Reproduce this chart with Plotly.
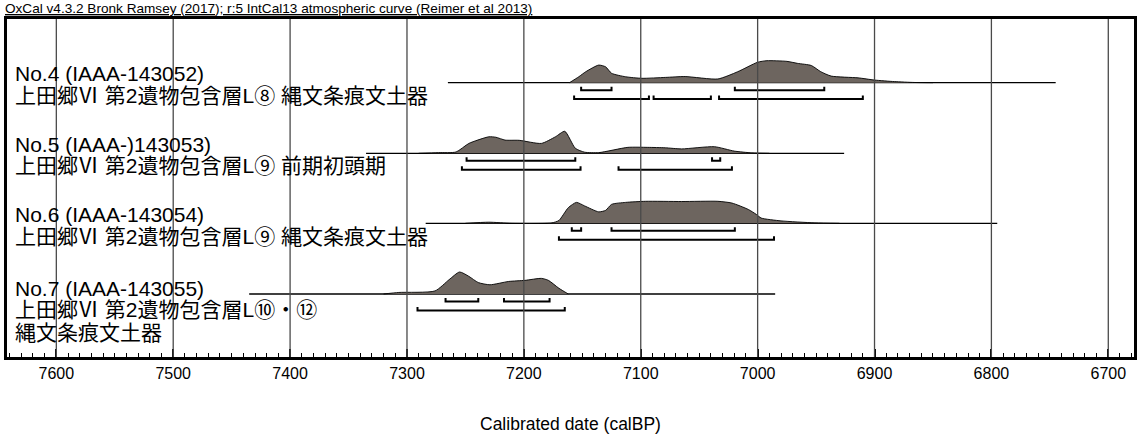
import plotly.graph_objects as go

# ---------------- data ----------------
tick_values = [7600, 7500, 7400, 7300, 7200, 7100, 7000, 6900, 6800, 6700]
tick_labels = ["7600", "7500", "7400", "7300", "7200", "7100", "7000", "6900", "6800", "6700"]

title_text = "OxCal v4.3.2 Bronk Ramsey (2017); r:5 IntCal13 atmospheric curve (Reimer et al 2013)"
x_title = "Calibrated date (calBP)"

label_line1 = ["No.4 (IAAA-143052)", "No.5 (IAAA-)143053)", "No.6 (IAAA-143054)", "No.7 (IAAA-143055)"]
label_line2 = ["上田郷Ⅵ 第2遺物包含層L⑧ 縄文条痕文土器",
               "上田郷Ⅵ 第2遺物包含層L⑨ 前期初頭期",
               "上田郷Ⅵ 第2遺物包含層L⑨ 縄文条痕文土器",
               "上田郷Ⅵ 第2遺物包含層L⑩・⑫"]
label_line3 = ["", "", "", "縄文条痕文土器"]

# extent of each sample's baseline (calBP)
line_start = [7265, 7335, 7284, 7435]
line_end = [6745, 6926, 6795, 6985]

# probability distributions (relative)
years_no4 = [7161, 7153, 7147, 7136, 7130, 7125, 7113, 7099, 7079, 7062, 7034, 7017, 7000, 6992,
             6975, 6966, 6954, 6946, 6937, 6914, 6900, 6883, 6866, 6850]
prob_no4 = [0, 0.27, 0.5, 0.8, 0.72, 0.43, 0.27, 0.2, 0.24, 0.28, 0.17, 0.5, 0.93, 1.0,
            0.97, 0.88, 0.78, 0.5, 0.3, 0.22, 0.12, 0.05, 0.01, 0]

years_no5 = [7290, 7273, 7258, 7247, 7230, 7224, 7216, 7204, 7185, 7173, 7165, 7156, 7148, 7136,
             7111, 7094, 7079, 7065, 7037, 7020, 7005, 6990]
prob_no5 = [0, 0.03, 0.06, 0.45, 0.75, 0.73, 0.6, 0.59, 0.45, 0.75, 1.0, 0.23, 0.05, 0.03,
            0.27, 0.27, 0.25, 0.2, 0.3, 0.1, 0.02, 0]

years_no6 = [7250, 7230, 7210, 7176, 7170, 7162, 7155, 7148, 7136, 7130, 7125, 7113, 7096, 7065,
             7034, 7022, 7008, 7001, 6997, 6980, 6951, 6930]
prob_no6 = [0, 0.05, 0, 0.02, 0.13, 0.71, 0.95, 0.79, 0.52, 0.59, 0.86, 0.95, 1.0, 0.99,
            1.0, 0.92, 0.63, 0.4, 0.24, 0.11, 0.02, 0]

years_no7 = [7320, 7307, 7276, 7264, 7255, 7247, 7239, 7229, 7213, 7199, 7185, 7179, 7170, 7162]
prob_no7 = [0, 0.07, 0.14, 0.65, 1.0, 0.8, 0.52, 0.42, 0.57, 0.62, 0.71, 0.62, 0.26, 0]

# 68.2% and 95.4% ranges (from, to) in calBP
range68_no4 = [(7151, 7125), (7019.5, 6943)]
range95_no4 = [(7157, 7093), (7089, 7040), (7033, 6910)]
range68_no5 = [(7249, 7156), (7039, 7032)]
range95_no5 = [(7253, 7151.5), (7119, 7022)]
range68_no6 = [(7159, 7151), (7125, 7019.5)]
range95_no6 = [(7170, 6986)]
range68_no7 = [(7267, 7239), (7217, 7178)]
range95_no7 = [(7291, 7165)]

years_list = [years_no4, years_no5, years_no6, years_no7]
prob_list = [prob_no4, prob_no5, prob_no6, prob_no7]
r68_list = [range68_no4, range68_no5, range68_no6, range68_no7]
r95_list = [range95_no4, range95_no5, range95_no6, range95_no7]

# ---------------- layout helpers ----------------
W, H = 1139, 439
PL, PR, PT, PB = 7, 1137, 19, 357          # plot area in pixels
YMAX = PB - PT                              # y data = PB - pixel_y


def py(pix):
    return PB - pix


row_base_px = [82.7, 153.3, 223.3, 294.0]
peak_px = 22.0
fill_col = "#6d655f"
FONT = "Arial, 'Liberation Sans', 'Noto Sans CJK JP', sans-serif"

fig = go.Figure()

for i in range(4):
    base = py(row_base_px[i])
    # baseline
    fig.add_trace(go.Scatter(x=[line_start[i], line_end[i]], y=[base, base], mode="lines",
                             line=dict(color="black", width=1.3), hoverinfo="skip", showlegend=False))
    # distribution
    fig.add_trace(go.Scatter(x=years_list[i], y=[base + peak_px * p for p in prob_list[i]],
                             mode="lines", fill="toself", fillcolor=fill_col,
                             line=dict(color="black", width=0.9, shape="spline", smoothing=0.6),
                             hoverinfo="skip", showlegend=False))
    # brackets
    for rng, off in ((r68_list[i], 7.5), (r95_list[i], 16.4)):
        yb = py(row_base_px[i] + off)
        xs, ys = [], []
        for a, b in rng:
            xs += [a, a, b, b, None]
            ys += [yb + 3.5, yb, yb, yb + 3.5, None]
        fig.add_trace(go.Scatter(x=xs, y=ys, mode="lines", line=dict(color="black", width=2),
                                 hoverinfo="skip", showlegend=False))

# grid lines drawn above the fills
for v in tick_values:
    fig.add_shape(type="line", xref="x", yref="paper", x0=v, x1=v, y0=0, y1=1,
                  line=dict(color="#4a4a4a", width=1.3), layer="above")

# labels
line1_px = [73.5, 144.2, 214.5, 288.2]
line2_px = [95.0, 165.8, 236.0, 309.3]
line3_px = [None, None, None, 332.8]
for i in range(4):
    for txt, pos in ((label_line1[i], line1_px[i]), (label_line2[i], line2_px[i]), (label_line3[i], line3_px[i])):
        if not txt:
            continue
        fig.add_annotation(x=(14 - PL) / (PR - PL), xref="paper", y=py(pos), yref="y",
                           text=txt, showarrow=False, xanchor="left", yanchor="middle",
                           font=dict(family=FONT, size=21, color="black"), borderpad=0)

fig.add_annotation(x=(4 - PL) / (PR - PL), xref="paper", y=(PB - 17) / (PB - PT), yref="paper",
                   text="<u>" + title_text + "</u>", showarrow=False, xanchor="left", yanchor="bottom",
                   font=dict(family=FONT, size=13.6, color="black"), borderpad=0)

fig.add_annotation(x=0.5, xref="paper", y=(PB - 424) / (PB - PT), yref="paper",
                   text=x_title, showarrow=False, xanchor="center", yanchor="middle",
                   font=dict(family=FONT, size=17.5, color="black"))

fig.update_xaxes(range=[7642.2, 6678.0], tickvals=tick_values, ticktext=tick_labels,
                 ticks="inside", ticklen=8, tickwidth=1.5, tickcolor="black",
                 minor=dict(ticks="inside", ticklen=4, tickwidth=1, tickcolor="black", dtick=10, showgrid=False),
                 showgrid=False, zeroline=False, showline=True, linewidth=2.5, linecolor="black",
                 mirror=True, tickfont=dict(family=FONT, size=16, color="black"), layer="above traces")
fig.update_yaxes(range=[0, YMAX], showgrid=False, zeroline=False, showticklabels=False, ticks="",
                 showline=True, linewidth=2.5, linecolor="black", mirror=True)

fig.update_layout(width=W, height=H, margin=dict(l=PL, r=W - PR, t=PT, b=H - PB),
                  paper_bgcolor="white", plot_bgcolor="white", font=dict(family=FONT))

fig.write_html("out.html", config={"displayModeBar": False},
               post_script="document.body.style.margin='0';")
